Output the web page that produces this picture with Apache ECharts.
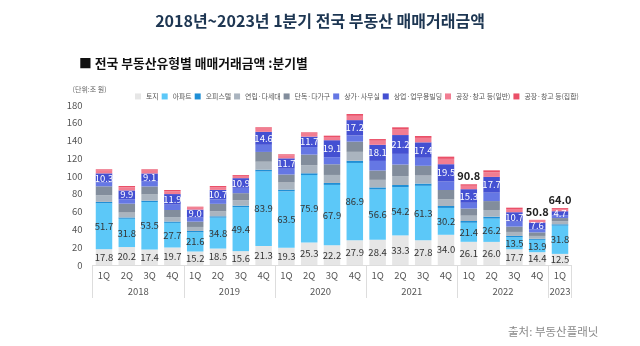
<!DOCTYPE html>
<html>
<head>
<meta charset="utf-8">
<script src="https://cdn.jsdelivr.net/npm/echarts@6/dist/echarts.min.js"></script>
<style>
  html, body { margin: 0; padding: 0; background: #fff; }
  #chart { width: 640px; height: 346px; }
</style>
</head>
<body>
<div id="chart"></div>
<script>
// Quarterly national real-estate transaction value (unit: trillion KRW)
const quarters = ['1Q','2Q','3Q','4Q','1Q','2Q','3Q','4Q','1Q','2Q','3Q','4Q','1Q','2Q','3Q','4Q','1Q','2Q','3Q','4Q','1Q'];
const years = ['2018','2019','2020','2021','2022','2023'];
const yTicks = [0, 20, 40, 60, 80, 100, 120, 140, 160, 180];

const land       = [17.8,20.2,17.4,19.7, 15.2,18.5,15.6,21.3, 19.3,25.3,22.2,27.9, 28.4,33.3,27.8,34.0, 26.1,26.0,17.7,14.4, 12.5];
const apartment  = [51.7,31.8,53.5,27.7, 21.6,34.8,49.4,83.9, 63.5,75.9,67.9,86.9, 56.6,54.2,61.3,30.2, 21.4,26.2,13.5,13.9, 31.8];
const officetel  = [1.5,1.5,1.5,1.5, 1.5,1.5,1.8,2.0, 2.0,2.0,2.2,2.5, 2.3,2.5,2.5,2.2, 2.0,2.2,1.5,1.2, 1.5];
const rowHouse   = [7.5,5.5,7.0,5.0, 4.5,5.5,6.0,9.0, 8.0,9.0,9.0,10.0, 8.5,10.0,9.0,7.5, 6.0,7.5,4.5,3.2, 3.5];
const detached   = [10.0,10.0,9.0,8.0, 6.0,8.5,8.0,11.0, 9.0,12.0,12.0,11.5, 10.5,13.0,11.0,10.5, 8.0,10.0,6.0,4.0, 3.5];
const shopOffice = [4.3,5.0,5.5,6.0, 4.5,5.0,6.0,8.0, 6.5,8.5,8.0,7.0, 10.8,12.0,9.0,9.5, 6.5,9.5,5.5,3.5, 3.0];
const commercial = [10.3,9.9,9.1,11.9, 9.0,10.7,10.9,14.6, 11.7,11.7,19.1,17.2, 18.1,21.2,17.4,19.5, 15.3,17.7,10.7,7.6, 4.7];
const factoryGen = [3.2,3.5,3.2,3.2, 2.3,3.1,2.5,3.6, 3.2,3.4,3.6,4.8, 4.6,6.1,5.0,6.0, 3.8,5.2,3.6,2.1, 2.4];
const factoryCol = [1.3,1.5,1.4,1.4, 1.0,1.3,1.0,1.5, 1.3,1.4,1.5,2.1, 1.9,2.6,2.1,2.5, 1.7,2.2,1.5,0.9, 1.1];
// Bars whose total is printed above them
const totalShown = [16, 19, 20];

const seriesDefs = [
  { name: '토지', data: land, color: '#e6e6e6', label: 'dark' },
  { name: '아파트', data: apartment, color: '#5cc8f8', label: 'dark' },
  { name: '오피스텔', data: officetel, color: '#1f8fd6' },
  { name: '연립·다세대', data: rowHouse, color: '#aab4bf' },
  { name: '단독·다가구', data: detached, color: '#828d9c' },
  { name: '상가·사무실', data: shopOffice, color: '#6577e4' },
  { name: '상업·업무용빌딩', data: commercial, color: '#4450d2', label: 'light' },
  { name: '공장·창고 등(일반)', data: factoryGen, color: '#f27d92' },
  { name: '공장·창고 등(집합)', data: factoryCol, color: '#ea5068', total: true }
];

const FONT = '"Noto Sans CJK KR", "Noto Sans", sans-serif';

function totalAt(i) {
  let s = 0;
  seriesDefs.forEach(d => { s += d.data[i]; });
  return s;
}

const series = seriesDefs.map(d => {
  const s = {
    name: d.name,
    type: 'bar',
    stack: 'all',
    barWidth: 16.5,
    data: d.data,
    itemStyle: { color: d.color },
    emphasis: { disabled: true }
  };
  if (d.label) {
    s.label = {
      show: true,
      position: 'inside',
      fontFamily: FONT,
      fontSize: 9.5,
      color: d.label === 'light' ? '#ffffff' : '#333333',
      formatter: p => p.value.toFixed(1)
    };
  }
  if (d.total) {
    s.label = {
      show: true,
      position: 'top',
      distance: 3,
      fontFamily: FONT,
      fontSize: 11,
      fontWeight: 'bold',
      color: '#222',
      formatter: p => totalShown.indexOf(p.dataIndex) >= 0 ? totalAt(p.dataIndex).toFixed(1) : ''
    };
  }
  return s;
});

// Year labels sit centred under each group of four quarters
const yearStart = [0, 4, 8, 12, 16, 20];
function yearLabel(idx) {
  for (let k = 0; k < yearStart.length; k++) {
    const span = Math.min(4, quarters.length - yearStart[k]);
    if (span === 4 && idx === yearStart[k] + 1) return '{s|' + years[k] + '}';
    if (span === 1 && idx === yearStart[k]) return '{c|' + years[k] + '}';
  }
  return '';
}

const chart = echarts.init(document.getElementById('chart'), null, { renderer: 'canvas' });
chart.setOption({
  animation: false,
  backgroundColor: '#fff',
  textStyle: { fontFamily: FONT },
  title: [
    {
      text: '2018년~2023년 1분기 전국 부동산 매매거래금액',
      left: 'center', top: 8,
      textStyle: { fontFamily: FONT, fontSize: 16, fontWeight: 'bold', color: '#1d3652' }
    },
    {
      text: '■ 전국 부동산유형별 매매거래금액 :분기별',
      left: 74, top: 52,
      textStyle: { fontFamily: FONT, fontSize: 12.8, fontWeight: 'bold', color: '#111' }
    },
    {
      text: '출처: 부동산플래닛',
      left: 503, top: 321,
      textStyle: { fontFamily: FONT, fontSize: 11.5, fontWeight: 'normal', color: '#8a8a8a' }
    }
  ],
  legend: {
    left: 130, top: 88,
    itemWidth: 6, itemHeight: 6, itemGap: 3,
    icon: 'rect',
    textStyle: { fontFamily: FONT, fontSize: 6.9, color: '#555' },
    data: seriesDefs.map(d => d.name)
  },
  grid: { left: 92.6, right: 68.6, top: 105, bottom: 81, containLabel: false },
  xAxis: [
    {
      type: 'category',
      data: quarters,
      position: 'bottom',
      axisLine: { show: true, lineStyle: { color: '#dddddd' } },
      axisTick: {
        show: true,
        length: 33,
        interval: (i) => yearStart.indexOf(i) >= 0,
        lineStyle: { color: '#dddddd' }
      },
      axisLabel: { interval: 0, margin: 6, fontFamily: FONT, fontSize: 9.5, color: '#555' }
    },
    {
      type: 'category',
      data: quarters.map((q, i) => i),
      position: 'bottom',
      axisLine: { show: false },
      axisTick: { show: false },
      axisLabel: {
        interval: 0,
        margin: 22,
        formatter: (v, i) => yearLabel(i),
        rich: {
          s: { fontFamily: FONT, fontSize: 9.5, color: '#555', padding: [0, 0, 0, 22.8] },
          c: { fontFamily: FONT, fontSize: 9.5, color: '#555' }
        }
      }
    }
  ],
  yAxis: {
    type: 'value',
    min: yTicks[0],
    max: yTicks[yTicks.length - 1],
    interval: yTicks[1] - yTicks[0],
    name: '(단위:조 원)',
    nameLocation: 'end',
    nameGap: 12,
    nameTextStyle: { fontFamily: FONT, fontSize: 7, color: '#666', align: 'right', padding: [0, -14, 0, 0] },
    axisLine: { show: false },
    axisTick: { show: false },
    splitLine: { show: false },
    axisLabel: { margin: 10, fontFamily: FONT, fontSize: 9.5, color: '#555' }
  },
  series: series
});
</script>
</body>
</html>
